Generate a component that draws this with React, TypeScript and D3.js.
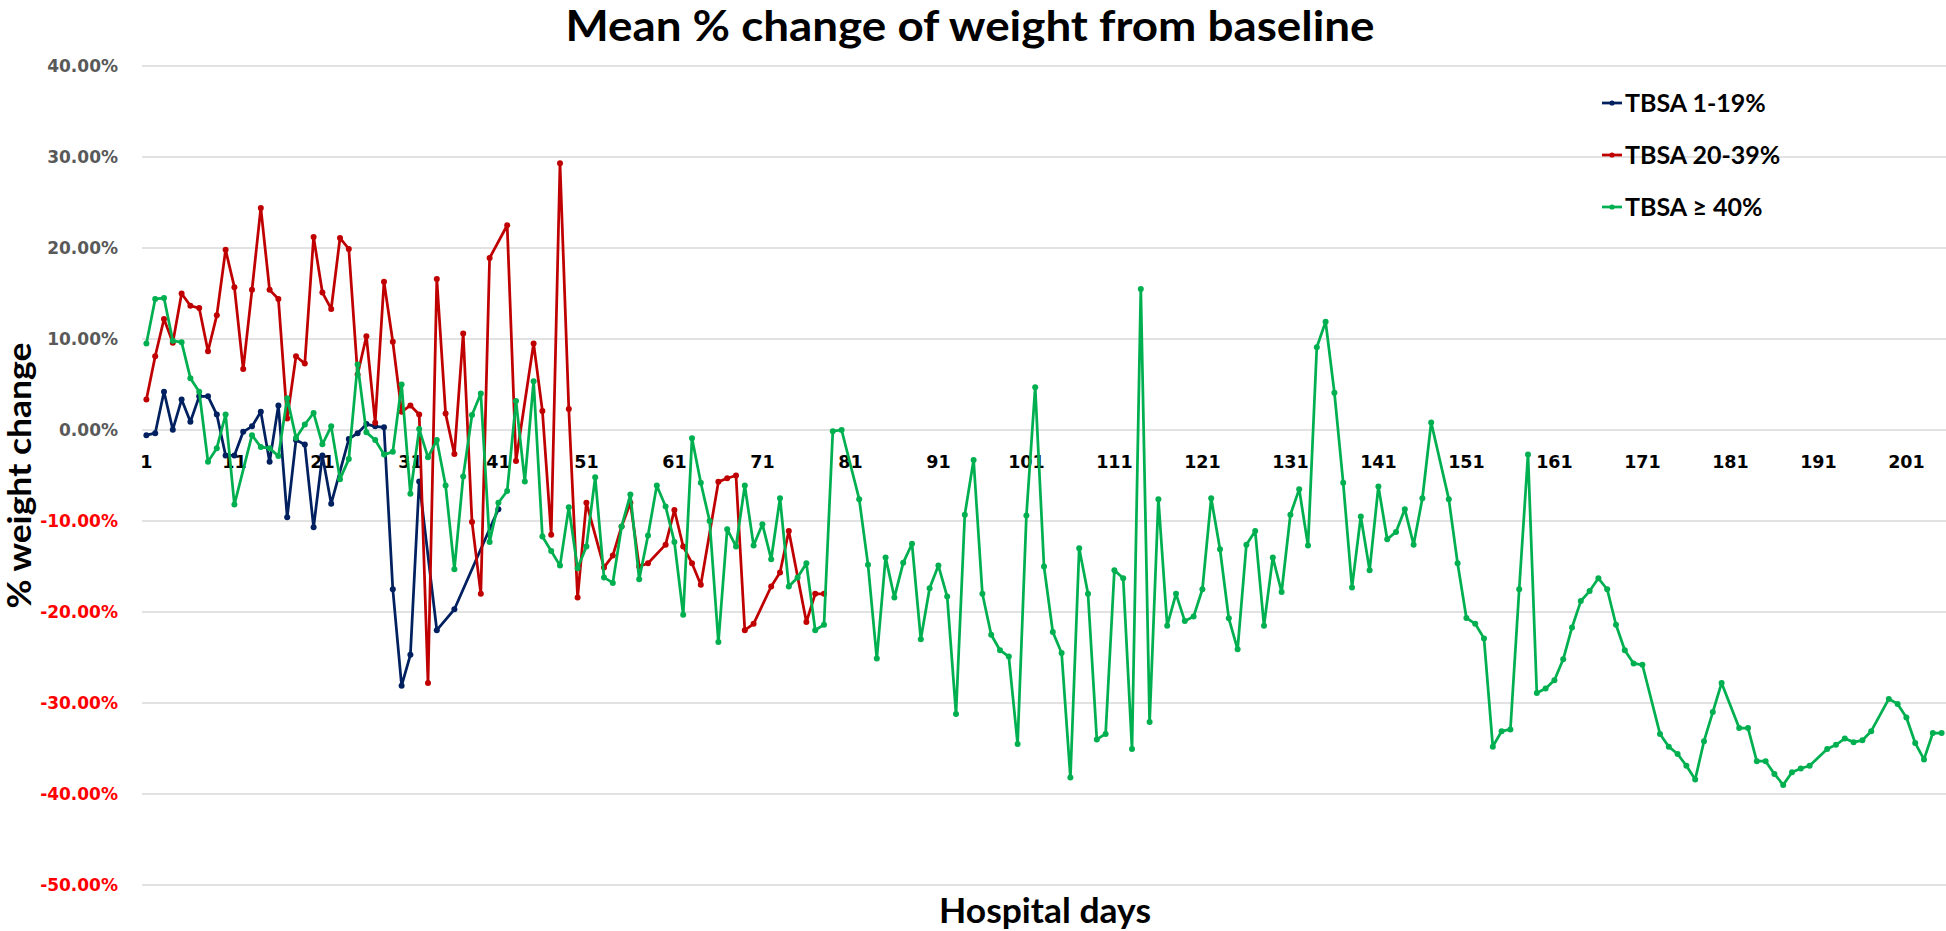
import React from 'react';
import * as d3 from 'd3';

// ---- Data (values in %) ----
const days: number[] = d3.range(1, 206);

const tbsa1to19: (number | null)[] = [
  -0.57, -0.35, 4.2, 0.04, 3.35, 0.9, 3.7, 3.7, 1.7, -2.8,
  -2.8, -0.2, 0.4, 2.0, -3.5, 2.7, -9.6, -1.1, -1.6, -10.7,
  -2.8, -8.1, null, -1.0, -0.35, 0.65, 0.4, 0.3, -17.5, -28.1,
  -24.7, -5.65, null, -22.0, null, -19.7, null, null, null, null,
  -8.7,
];

const tbsa20to39: (number | null)[] = [
  3.35, 8.1, 12.2, 9.6, 15.0, 13.65, 13.4, 8.65, 12.6, 19.8,
  15.7, 6.7, 15.4, 24.4, 15.4, 14.4, 1.26, 8.1, 7.3, 21.2,
  15.1, 13.3, 21.1, 19.9, 6.1, 10.3, 0.8, 16.3, 9.7, 2.0,
  2.7, 1.7, -27.8, 16.6, 1.8, -2.65, 10.6, -10.1, -18.0, 18.9,
  null, 22.5, -3.4, null, 9.5, 2.1, -11.5, 29.3, 2.3, -18.4,
  -8.0, null, -15.1, -13.8, -10.6, -8.0, -15.0, -14.65, null, -12.6,
  -8.8, -12.8, -14.65, -17.0, null, -5.7, -5.3, -5.0, -22.0, -21.3,
  null, -17.2, -15.65, -11.1, null, -21.1, -18.0, -18.0,
];

const tbsa40plus: (number | null)[] = [
  9.5, 14.4, 14.5, 9.8, 9.65, 5.7, 4.2, -3.5, -2.0, 1.7,
  -8.2, null, -0.57, -1.87, -2.0, -2.87, 3.5, -0.87, 0.6, 1.87,
  -1.57, 0.4, -5.4, -3.2, 7.2, -0.26, -1.1, -2.7, -2.4, 5.0,
  -7.0, 0.1, -3.0, -1.1, -6.1, -15.3, -5.1, 1.65, 4.0, -12.3,
  -8.0, -6.7, 3.2, -5.65, 5.35, -11.7, -13.3, -14.9, -8.5, -15.2,
  -12.8, -5.2, -16.2, -16.8, -10.6, -7.1, -16.4, -11.6, -6.1, -8.4,
  -12.3, -20.3, -0.9, -5.8, -10.0, -23.3, -10.9, -12.8, -6.1, -12.7,
  -10.35, -14.2, -7.5, -17.2, -16.2, -14.65, -22.0, -21.4, -0.13, 0.0,
  null, -7.6, -14.8, -25.1, -14.0, -18.4, -14.6, -12.5, -23.0, -17.4,
  -14.9, -18.3, -31.2, -9.3, -3.3, -18.0, -22.5, -24.2, -24.9, -34.5,
  -9.4, 4.7, -15.0, -22.2, -24.5, -38.2, -13.0, -18.0, -34.0, -33.4,
  -15.4, -16.3, -35.05, 15.5, -32.1, -7.6, -21.5, -18.0, -21.0, -20.5,
  -17.5, -7.5, -13.1, -20.7, -24.1, -12.6, -11.1, -21.5, -14.0, -17.8,
  -9.3, -6.5, -12.7, 9.1, 11.9, 4.1, -5.8, -17.3, -9.5, -15.4,
  -6.2, -12.0, -11.2, -8.7, -12.6, -7.5, 0.83, null, -7.6, -14.65,
  -20.65, -21.3, -22.9, -34.8, -33.1, -32.9, -17.5, -2.7, -28.9, -28.4,
  -27.5, -25.2, -21.7, -18.8, -17.7, -16.3, -17.5, -21.4, -24.2, -25.65,
  -25.8, null, -33.4, -34.8, -35.6, -36.9, -38.4, -34.2, -31.0, -27.8,
  null, -32.75, -32.75, -36.4, -36.4, -37.8, -39.0, -37.6, -37.2, -36.9,
  null, -35.05, -34.6, -33.9, -34.3, -34.1, -33.1, null, -29.55, -30.1,
  -31.6, -34.4, -36.2, -33.3, -33.3,
];

const seriesNames = ['TBSA 1-19%', 'TBSA 20-39%', 'TBSA \u2265 40%'];
const seriesColors = ['#002060', '#C00000', '#00B050'];
const seriesValues = [tbsa1to19, tbsa20to39, tbsa40plus];

const yTicks = [40, 30, 20, 10, 0, -10, -20, -30, -40, -50];
const xTickDays = d3.range(1, 206, 10);

const chartTitle = 'Mean % change of weight from baseline';
const yTitle = '% weight change';
const xTitle = 'Hospital days';

export default function App() {
  React.useEffect(() => {
    document.body.style.margin = '0';
    document.body.style.overflow = 'hidden';
  }, []);

  const W = 1946;
  const H = 931;
  const left = 142;
  const right = 1946;
  const top = 66;
  const bottom = 885;

  const x = d3.scalePoint<number>().domain(days).range([left, right]).padding(0.5);
  const y = d3.scaleLinear().domain([-50, 40]).range([bottom, top]);

  const line = d3
    .line<[number, number]>()
    .x((d) => x(d[0]) as number)
    .y((d) => y(d[1]));

  const series = seriesValues.map((vals, i) => {
    const pts: [number, number][] = [];
    vals.forEach((v, j) => {
      if (v !== null && v !== undefined) pts.push([days[j], v]);
    });
    return { name: seriesNames[i], color: seriesColors[i], pts };
  });

  const tickFont = '"DejaVu Sans", Verdana, sans-serif';
  const titleFont = 'Lato, "Open Sans", sans-serif';

  return (
    <svg
      width={W}
      height={H}
      style={{ position: 'absolute', left: 0, top: 0, background: '#fff' }}
    >
      <rect x={0} y={0} width={W} height={H} fill="#fff" />
      {/* gridlines */}
      {yTicks.map((t) => (
        <line
          key={'g' + t}
          x1={left}
          x2={right}
          y1={y(t)}
          y2={y(t)}
          stroke="#D9D9D9"
          strokeWidth={1.3}
        />
      ))}
      {/* y tick labels */}
      {yTicks.map((t) => (
        <text
          key={'yt' + t}
          x={118}
          y={y(t)}
          dy="0.36em"
          textAnchor="end"
          fontFamily={tickFont}
          fontWeight={700}
          fontSize={17}
          fill={t < 0 ? '#FF0000' : '#595959'}
        >
          {t.toFixed(2) + '%'}
        </text>
      ))}
      {/* x tick labels */}
      {xTickDays.map((d) => (
        <text
          key={'xt' + d}
          x={x(d) as number}
          y={y(0) + 38}
          textAnchor="middle"
          fontFamily={tickFont}
          fontWeight={700}
          fontSize={17.5}
          fill="#000"
        >
          {d}
        </text>
      ))}
      {/* series */}
      {series.map((s) => (
        <g key={s.name}>
          <path
            d={line(s.pts) || ''}
            fill="none"
            stroke={s.color}
            strokeWidth={2.75}
            strokeLinejoin="round"
          />
          {s.pts.map((p) => (
            <circle
              key={p[0]}
              cx={x(p[0]) as number}
              cy={y(p[1])}
              r={3}
              fill={s.color}
            />
          ))}
        </g>
      ))}
      {/* title */}
      <text
        x={970}
        y={41}
        textAnchor="middle"
        fontFamily={titleFont}
        fontWeight={700}
        fontSize={42}
        textLength={809}
        lengthAdjust="spacingAndGlyphs"
        fill="#000"
      >
        {chartTitle}
      </text>
      {/* y axis title */}
      <text
        transform={`translate(31, ${(top + bottom) / 2}) rotate(-90)`}
        textAnchor="middle"
        fontFamily={titleFont}
        fontWeight={700}
        fontSize={32}
        textLength={266}
        lengthAdjust="spacingAndGlyphs"
        fill="#000"
      >
        {yTitle}
      </text>
      {/* x axis title */}
      <text
        x={1045}
        y={923}
        textAnchor="middle"
        fontFamily={titleFont}
        fontWeight={700}
        fontSize={35}
        textLength={212}
        lengthAdjust="spacingAndGlyphs"
        fill="#000"
      >
        {xTitle}
      </text>
      {/* legend */}
      {series.map((s, i) => {
        const cy = 103 + i * 52;
        return (
          <g key={'lg' + s.name}>
            <line x1={1602} x2={1622} y1={cy} y2={cy} stroke={s.color} strokeWidth={2.75} />
            <circle cx={1612} cy={cy} r={2.6} fill={s.color} />
            <text
              x={1625}
              y={cy}
              dy="0.36em"
              fontFamily={titleFont}
              fontWeight={700}
              fontSize={25}
              fill="#000"
            >
              {s.name}
            </text>
          </g>
        );
      })}
    </svg>
  );
}
